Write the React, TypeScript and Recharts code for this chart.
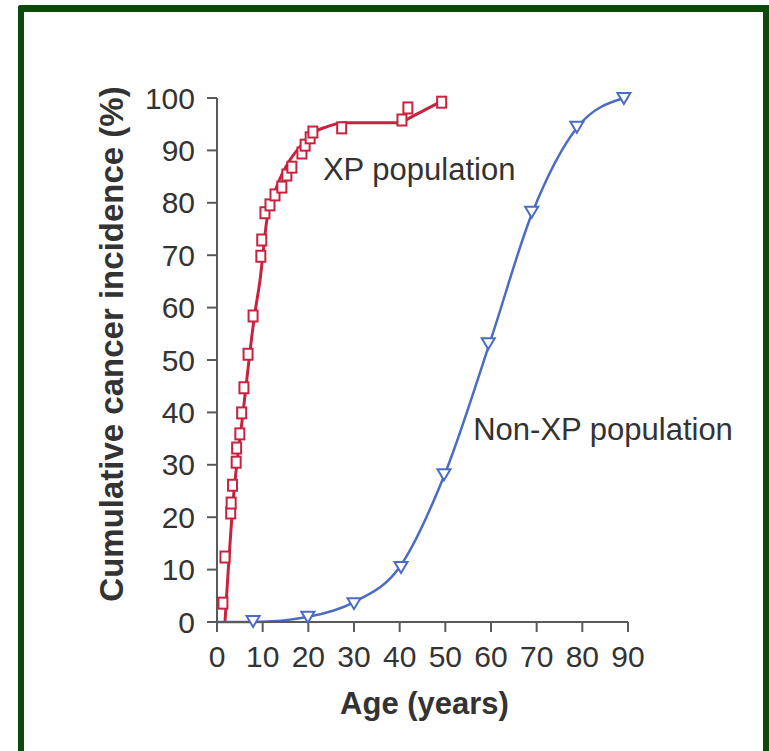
import React from 'react';
import { ComposedChart, Line, Scatter, XAxis, YAxis, ReferenceDot } from 'recharts';

// ---- data ----
const xTicks = [0, 10, 20, 30, 40, 50, 60, 70, 80, 90];
const yTicks = [0, 10, 20, 30, 40, 50, 60, 70, 80, 90, 100];

// XP population observed points (age, cumulative %)
const xpAges = [1.3, 1.75, 3.0, 3.1, 3.4, 4.2, 4.3, 5.0, 5.4, 5.9, 6.8, 7.9, 9.6, 9.8, 10.5, 11.6, 12.7, 14.2, 15.3, 16.4, 18.6, 19.3, 20.4, 21.0, 27.3, 40.5, 41.8, 49.2];
const xpIncidence = [3.6, 12.4, 20.8, 22.7, 26.1, 30.5, 33.2, 35.9, 39.9, 44.7, 51.1, 58.4, 69.8, 72.9, 78.1, 79.6, 81.5, 83.0, 85.3, 86.8, 89.5, 91.0, 92.4, 93.5, 94.3, 95.8, 98.1, 99.2];

// XP fitted curve
const xpCurveAges = [1.75, 3.5, 5.7, 8.3, 9.4, 10.9, 13.1, 16, 18.2, 21, 24, 27.6, 40, 42.8, 49.2];
const xpCurveValues = [0, 22.7, 39.9, 59, 65.1, 76.6, 83.1, 88.2, 90.7, 93.3, 94.5, 95.3, 95.3, 96.5, 99.4];

// Non-XP population observed points
const nonXpAges = [7.9, 19.9, 30, 40.3, 49.7, 59.4, 68.9, 78.8, 89.1];
const nonXpIncidence = [0.2, 1, 3.6, 10.5, 28.2, 53.2, 78.3, 94.5, 100];

// Non-XP fitted curve
const nonXpCurveAges = [0, 8, 20, 30, 40, 50, 60, 69, 79, 89.1];
const nonXpCurveValues = [0, 0, 1, 3.8, 10.5, 28.5, 54, 78, 94.5, 100];

const xpLabel = 'XP population';
const nonXpLabel = 'Non-XP population';
const xTitle = 'Age (years)';
const yTitle = 'Cumulative cancer incidence (%)';

const zip = (xs: number[], ys: number[]) => xs.map((x, i) => ({ x, y: ys[i] }));
const xpPoints = zip(xpAges, xpIncidence);
const xpCurve = zip(xpCurveAges, xpCurveValues);
const nonXpPoints = zip(nonXpAges, nonXpIncidence);
const nonXpCurve = zip(nonXpCurveAges, nonXpCurveValues);

const RED = '#c8223f';
const BLUE = '#4a6cc2';
const AXIS = '#5a5a5a';
const TEXT = '#333333';
const FONT = '"Liberation Sans", Arial, Helvetica, sans-serif';

const SquareShape = (props: any) => {
  const { cx, cy } = props;
  if (cx == null || cy == null) return null;
  return <rect x={cx - 4.5} y={cy - 5.5} width={9} height={11} fill="#ffffff" stroke={RED} strokeWidth={2} />;
};

const TriangleShape = (props: any) => {
  const { cx, cy } = props;
  if (cx == null || cy == null) return null;
  return (
    <polygon
      points={`${cx - 6.5},${cy - 5} ${cx + 6.5},${cy - 5} ${cx},${cy + 6}`}
      fill="#ffffff"
      stroke={BLUE}
      strokeWidth={2}
    />
  );
};

const annotation = (text: string) => (props: any) => {
  const vb = props.viewBox || {};
  return (
    <text x={vb.x} y={vb.y} fill={TEXT} fontSize={31} fontFamily={FONT} textAnchor="start">
      {text}
    </text>
  );
};

export default function App() {
  return (
    <div style={{ position: 'absolute', left: 0, top: 0, width: 769, height: 751, background: '#ffffff', overflow: 'hidden' }}>
      <div
        style={{
          position: 'absolute',
          left: 18,
          top: 5,
          width: 769,
          height: 800,
          borderLeft: '6px solid #0c4a0a',
          borderTop: '7px solid #0c4a0a',
          borderTopLeftRadius: 3,
          boxSizing: 'border-box',
        }}
      />
      <div
        style={{
          position: 'absolute',
          right: 0,
          top: 5,
          width: 6,
          height: 800,
          background: '#0c4a0a',
        }}
      />
      <div style={{ position: 'absolute', left: 0, top: 0 }}>
        <ComposedChart width={769} height={751} margin={{ top: 98, right: 141, bottom: 69, left: 117 }}>
          <XAxis
            type="number"
            dataKey="x"
            domain={[0, 90]}
            ticks={xTicks}
            interval={0}
            tickSize={10}
            tickMargin={14}
            height={60}
            axisLine={{ stroke: AXIS, strokeWidth: 2 }}
            tickLine={{ stroke: AXIS, strokeWidth: 2 }}
            tick={{ fill: TEXT, fontSize: 30, fontFamily: FONT }}
            label={{
              content: (p: any) => {
                const vb = p.viewBox || {};
                return (
                  <text
                    x={vb.x + vb.width / 2 + 2}
                    y={vb.y + 92}
                    textAnchor="middle"
                    fill={TEXT}
                    fontSize={31}
                    fontWeight="bold"
                    fontFamily={FONT}
                  >
                    {xTitle}
                  </text>
                );
              },
            }}
          />
          <YAxis
            type="number"
            dataKey="y"
            domain={[0, 100]}
            ticks={yTicks}
            interval={0}
            width={100}
            tickSize={10}
            tickMargin={12}
            axisLine={{ stroke: AXIS, strokeWidth: 2 }}
            tickLine={{ stroke: AXIS, strokeWidth: 2 }}
            tick={{ fill: TEXT, fontSize: 30, fontFamily: FONT }}
            label={{
              content: (p: any) => {
                const vb = p.viewBox || {};
                const x = vb.x + 6;
                const y = vb.y + vb.height / 2 - 16;
                return (
                  <text
                    x={x}
                    y={y}
                    transform={`rotate(-90, ${x}, ${y})`}
                    textAnchor="middle"
                    fill={TEXT}
                    fontSize={33}
                    fontWeight="bold"
                    fontFamily={FONT}
                  >
                    {yTitle}
                  </text>
                );
              },
            }}
          />
          <Line
            data={xpCurve}
            dataKey="y"
            type="monotone"
            stroke={RED}
            strokeWidth={3}
            dot={false}
            activeDot={false}
            isAnimationActive={false}
          />
          <Line
            data={nonXpCurve}
            dataKey="y"
            type="monotone"
            stroke={BLUE}
            strokeWidth={2.5}
            dot={false}
            activeDot={false}
            isAnimationActive={false}
          />
          <Scatter data={xpPoints} dataKey="y" shape={SquareShape} isAnimationActive={false} />
          <Scatter data={nonXpPoints} dataKey="y" shape={TriangleShape} isAnimationActive={false} />
          <ReferenceDot x={23.2} y={84.4} r={0} fill="none" stroke="none" ifOverflow="visible" label={{ content: annotation(xpLabel) }} />
          <ReferenceDot x={56.1} y={34.7} r={0} fill="none" stroke="none" ifOverflow="visible" label={{ content: annotation(nonXpLabel) }} />
        </ComposedChart>
      </div>
    </div>
  );
}
